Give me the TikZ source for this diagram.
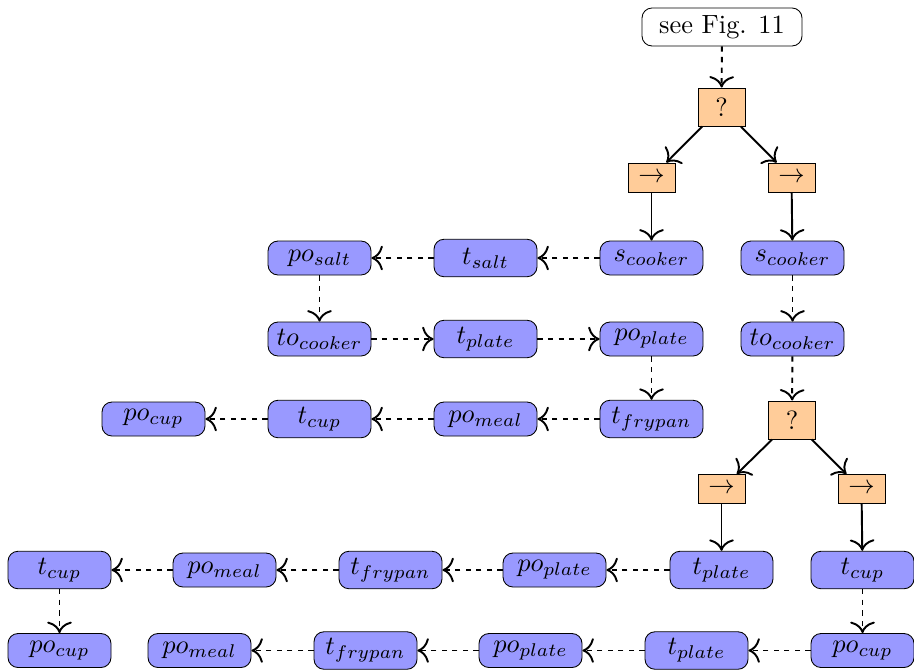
\documentclass[tikz,border=0pt]{standalone}
\usetikzlibrary{arrows.meta}
% node labels are set at 10pt and enlarged as a whole
\newcommand\biglabel[1]{\scalebox{1.5}{#1}}
\begin{document}
\begin{tikzpicture}[
  action/.style={draw, line width=0.5pt, rounded corners=0.2cm, fill=blue!40,
    minimum width=2.06cm, minimum height=0.68cm, inner sep=1pt},
  tall/.style={minimum height=0.75cm},
  ctrl/.style={draw, line width=0.5pt, fill=orange!40, minimum width=0.94cm, minimum height=0.76cm, inner sep=1pt},
  seqbox/.style={draw, line width=0.5pt, fill=orange!40, minimum width=0.94cm, minimum height=0.58cm, inner sep=1pt},
  refbox/.style={draw, line width=0.5pt, rounded corners=0.2cm, fill=white, minimum width=3.2cm, minimum height=0.76cm},
  link/.style={line width=1.1pt, -{To[length=6.5pt,width=14pt]}},
  flow/.style={link, dashed},
]
\useasboundingbox (0,0) rectangle (18.28,-13.4);

% upper tree
\node[refbox] (fig) at (14.44,-0.54) {\biglabel{see Fig. 11}};
\node[ctrl] (sel1) at (14.43,-2.14) {\biglabel{?}};
\node[seqbox] (seqL) at (13.03,-3.55) {\biglabel{$\rightarrow$}};
\node[seqbox] (seqR) at (15.83,-3.55) {\biglabel{$\rightarrow$}};

% first branch
\node[action] (posalt) at (6.39,-5.16) {\biglabel{$po_{salt}$}};
\node[action,tall] (tsalt) at (9.71,-5.16) {\biglabel{$t_{salt}$}};
\node[action] (scook) at (13.03,-5.16) {\biglabel{$s_{cooker}$}};
\node[action] (tocook) at (6.39,-6.78) {\biglabel{$to_{cooker}$}};
\node[action,tall] (tplate) at (9.71,-6.78) {\biglabel{$t_{plate}$}};
\node[action] (poplate) at (13.03,-6.78) {\biglabel{$po_{plate}$}};
\node[action] (pocup) at (3.07,-8.38) {\biglabel{$po_{cup}$}};
\node[action,tall] (tcup) at (6.39,-8.38) {\biglabel{$t_{cup}$}};
\node[action] (pomeal) at (9.71,-8.38) {\biglabel{$po_{meal}$}};
\node[action,tall] (tfry) at (13.03,-8.38) {\biglabel{$t_{frypan}$}};

% second branch
\node[action] (scookR) at (15.85,-5.16) {\biglabel{$s_{cooker}$}};
\node[action] (tocookR) at (15.85,-6.78) {\biglabel{$to_{cooker}$}};
\node[ctrl] (sel2) at (15.84,-8.40) {\biglabel{?}};
\node[seqbox] (seq2L) at (14.43,-9.78) {\biglabel{$\rightarrow$}};
\node[seqbox] (seq2R) at (17.23,-9.78) {\biglabel{$\rightarrow$}};

% row four
\node[action,tall] (tcupA) at (1.19,-11.40) {\biglabel{$t_{cup}$}};
\node[action] (pomealA) at (4.49,-11.40) {\biglabel{$po_{meal}$}};
\node[action,tall] (tfryA) at (7.81,-11.40) {\biglabel{$t_{frypan}$}};
\node[action] (poplateA) at (11.09,-11.40) {\biglabel{$po_{plate}$}};
\node[action,tall] (tplateA) at (14.43,-11.40) {\biglabel{$t_{plate}$}};
\node[action,tall] (tcupB) at (17.25,-11.40) {\biglabel{$t_{cup}$}};

% row five
\node[action] (pocupA) at (1.19,-13.01) {\biglabel{$po_{cup}$}};
\node[action] (pomealB) at (3.99,-13.01) {\biglabel{$po_{meal}$}};
\node[action,tall] (tfryB) at (7.31,-13.01) {\biglabel{$t_{frypan}$}};
\node[action] (poplateB) at (10.61,-13.01) {\biglabel{$po_{plate}$}};
\node[action,tall] (tplateB) at (13.93,-13.01) {\biglabel{$t_{plate}$}};
\node[action] (pocupB) at (17.25,-13.01) {\biglabel{$po_{cup}$}};

% control edges
\draw[flow] (fig) -- (sel1);
\draw[link] (sel1) -- (seqL);
\draw[link] (sel1) -- (seqR);
\draw[link] (seqL) -- (scook);
\draw[link] (seqR) -- (scookR);
\draw[flow] (scookR) -- (tocookR);
\draw[flow] (tocookR) -- (sel2);
\draw[link] (sel2) -- (seq2L);
\draw[link] (sel2) -- (seq2R);
\draw[link] (seq2L) -- (tplateA);
\draw[link] (seq2R) -- (tcupB);

% action sequences
\draw[flow] (scook) -- (tsalt);
\draw[flow] (tsalt) -- (posalt);
\draw[flow] (posalt) -- (tocook);
\draw[flow] (tocook) -- (tplate);
\draw[flow] (tplate) -- (poplate);
\draw[flow] (poplate) -- (tfry);
\draw[flow] (tfry) -- (pomeal);
\draw[flow] (pomeal) -- (tcup);
\draw[flow] (tcup) -- (pocup);

\draw[flow] (tplateA) -- (poplateA);
\draw[flow] (poplateA) -- (tfryA);
\draw[flow] (tfryA) -- (pomealA);
\draw[flow] (pomealA) -- (tcupA);
\draw[flow] (tcupA) -- (pocupA);

\draw[flow] (tcupB) -- (pocupB);
\draw[flow] (pocupB) -- (tplateB);
\draw[flow] (tplateB) -- (poplateB);
\draw[flow] (poplateB) -- (tfryB);
\draw[flow] (tfryB) -- (pomealB);
\end{tikzpicture}
\end{document}
